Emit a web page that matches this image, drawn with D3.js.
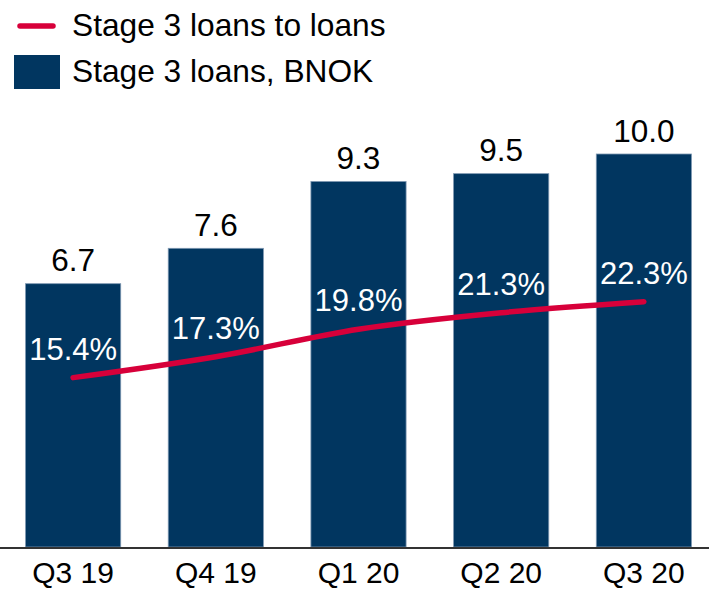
<!DOCTYPE html>
<html>
<head>
<meta charset="utf-8">
<script src="https://cdn.jsdelivr.net/npm/d3@7"></script>
<style>
  html, body { margin: 0; padding: 0; background: #fff; }
  svg { display: block; font-family: "Liberation Sans", Arial, sans-serif; }
</style>
</head>
<body>
<svg id="chart" width="711" height="590"></svg>
<script>
const categories = ["Q3 19", "Q4 19", "Q1 20", "Q2 20", "Q3 20"];
const loansBNOK = [6.7, 7.6, 9.3, 9.5, 10.0];
const ratioPct = [15.4, 17.3, 19.8, 21.3, 22.3];
const legendLabels = ["Stage 3 loans to loans", "Stage 3 loans, BNOK"];

const barColor = "#013660";
const lineColor = "#d7003a";

const svg = d3.select("#chart");
const baseY = 547;
const topY = 154;

const x = d3.scaleBand().domain(categories).range([2, 715]).paddingInner(0.333).paddingOuter(0.165);
const y = d3.scaleLinear().domain([0, 10]).range([baseY, topY]);
const y2 = d3.scaleLinear().domain([0, 35.73]).range([baseY, topY]);

const data = categories.map((c, i) => ({ c, v: loansBNOK[i], p: ratioPct[i] }));

// bars
svg.append("g").selectAll("rect").data(data).join("rect")
  .attr("x", d => x(d.c))
  .attr("y", d => y(d.v))
  .attr("width", x.bandwidth())
  .attr("height", d => baseY - y(d.v))
  .attr("fill", barColor)
  .attr("stroke", "#7d97b1")
  .attr("stroke-width", 0.8);

// value labels
svg.append("g").selectAll("text").data(data).join("text")
  .attr("x", d => x(d.c) + x.bandwidth() / 2)
  .attr("y", d => y(d.v) - 12.5)
  .attr("text-anchor", "middle")
  .attr("font-size", 31.5)
  .attr("fill", "#000")
  .text(d => d.v.toFixed(1));

// axis
const xAxis = d3.axisBottom(x).tickSize(0).tickPadding(0);
const ax = svg.append("g").attr("transform", `translate(0,${baseY + 1})`).call(xAxis);
ax.select(".domain").attr("stroke", "#333").attr("stroke-width", 2).attr("d", "M0,0H709");
ax.selectAll(".tick text")
  .attr("font-size", 30)
  .attr("font-family", "'Liberation Sans', Arial, sans-serif")
  .attr("fill", "#000")
  .attr("dy", null)
  .attr("y", 35);

// line
const line = d3.line()
  .x(d => x(d.c) + x.bandwidth() / 2)
  .y(d => y2(d.p))
  .curve(d3.curveMonotoneX);
svg.append("path").datum(data)
  .attr("d", line)
  .attr("fill", "none")
  .attr("stroke", lineColor)
  .attr("stroke-width", 5.5)
  .attr("stroke-linecap", "round");

// percentage labels
svg.append("g").selectAll("text").data(data).join("text")
  .attr("x", d => x(d.c) + x.bandwidth() / 2)
  .attr("y", d => y2(d.p) - 18)
  .attr("text-anchor", "middle")
  .attr("font-size", 31)
  .attr("fill", "#fff")
  .text(d => d.p.toFixed(1) + "%");

// legend
const lg = svg.append("g");
lg.append("line").attr("x1", 20).attr("x2", 53).attr("y1", 26).attr("y2", 26)
  .attr("stroke", lineColor).attr("stroke-width", 5.5).attr("stroke-linecap", "round");
lg.append("text").attr("x", 72).attr("y", 36).attr("font-size", 31.7).attr("fill", "#000").text(legendLabels[0]);
lg.append("rect").attr("x", 14).attr("y", 55).attr("width", 46).attr("height", 34).attr("fill", barColor);
lg.append("text").attr("x", 72).attr("y", 82).attr("font-size", 31.7).attr("fill", "#000").text(legendLabels[1]);
</script>
</body>
</html>
